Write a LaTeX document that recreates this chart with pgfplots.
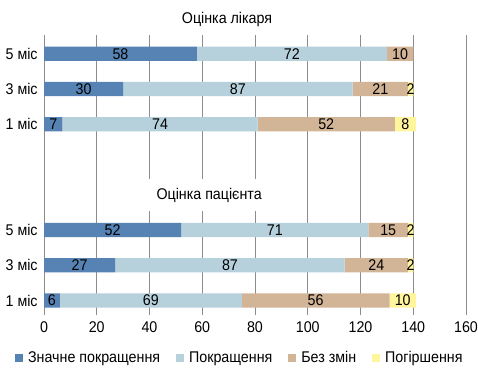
\documentclass[border=0pt]{standalone}
\usepackage{fontspec}
\setmainfont{Liberation Sans}[FakeStretch=0.92]
\usepackage{pgfplots}
\pgfplotsset{compat=1.18}
\definecolor{cA}{HTML}{5682B4}
\definecolor{cB}{HTML}{B6D0DC}
\definecolor{cC}{HTML}{D2B496}
\definecolor{cD}{HTML}{FFF59D}
\definecolor{gridgray}{HTML}{8C8C8C}
\newcommand{\fs}{\fontsize{15.5bp}{18bp}\selectfont}
\begin{document}
\fs
\begin{tikzpicture}
\pgfplotsset{
  base/.style={
    width=422bp, height=280bp, scale only axis,
    xmin=0, xmax=160, ymin=-0.41, ymax=7.53,
    clip=false,
  }
}
\begin{axis}[base, name=ax,
  xbar stacked, bar width=14.3bp,
  xtick={0,20,...,160},
  ytick={0,1,2,5,6,7},
  yticklabels={1 міс,3 міс,5 міс,1 міс,3 міс,5 міс},
  /pgf/number format/assume math mode=true,
  tick label style={font=\fs},
  xticklabel style={yshift=-1bp},
  yticklabel style={xshift=-1bp},
  axis line style={draw=none},
  major tick length=0pt,
  xmajorgrids, major grid style={gridgray, line width=0.9bp},
  extra x ticks={0,100}, extra x tick labels={},
  extra x tick style={grid style={black, line width=0.9bp}},
  legend columns=-1,
  legend style={at={(0.464,-0.155)}, anchor=center, draw=none,
    font=\fs, inner sep=0pt,
    /tikz/every odd column/.append style={column sep=3bp},
    /tikz/every even column/.append style={column sep=14bp}},
  legend image code/.code={\fill[#1] (0bp,-4bp) rectangle (8bp,4bp);},
]
\addplot[fill=cA, draw=none] coordinates {(6,0) (27,1) (52,2) (7,5) (30,6) (58,7)};
\addplot[fill=cB, draw=none] coordinates {(69,0) (87,1) (71,2) (74,5) (87,6) (72,7)};
\addplot[fill=cC, draw=none] coordinates {(56,0) (24,1) (15,2) (52,5) (21,6) (10,7)};
\addplot[fill=cD, draw=none] coordinates {(10,0) (2,1) (2,2) (8,5) (2,6) (0,7)};
\legend{Значне покращення, Покращення, Без змін, Погіршення}
\node[fill=white, inner xsep=24bp, minimum height=32bp, font=\fs] at (axis cs:62.6,2.99) {Оцінка пацієнта};
\node[font=\fs] at (axis cs:69.4,7.96) {Оцінка лікаря};
\end{axis}
\begin{axis}[base, hide axis]
\addplot[draw=none, mark=none, point meta=explicit symbolic,
  nodes near coords, nodes near coords align={center},
  every node near coord/.append style={font=\fs, inner sep=0pt}]
coordinates {
(29,7) [58] (94,7) [72] (135,7) [10]
(15,6) [30] (73.5,6) [87] (127.5,6) [21] (139,6) [2]
(3.5,5) [7] (44,5) [74] (107,5) [52] (137,5) [8]
(26,2) [52] (87.5,2) [71] (130.5,2) [15] (139,2) [2]
(13.5,1) [27] (70.5,1) [87] (126,1) [24] (139,1) [2]
(3,0) [6] (40.5,0) [69] (103,0) [56] (136,0) [10]
};
\end{axis}
\pgfresetboundingbox
\path (ax.south west) ++(-44bp,-69bp) coordinate (bl);
\path (ax.north east) ++(12bp,35bp) coordinate (tr);
\path (bl) rectangle (tr);
\end{tikzpicture}
\end{document}
